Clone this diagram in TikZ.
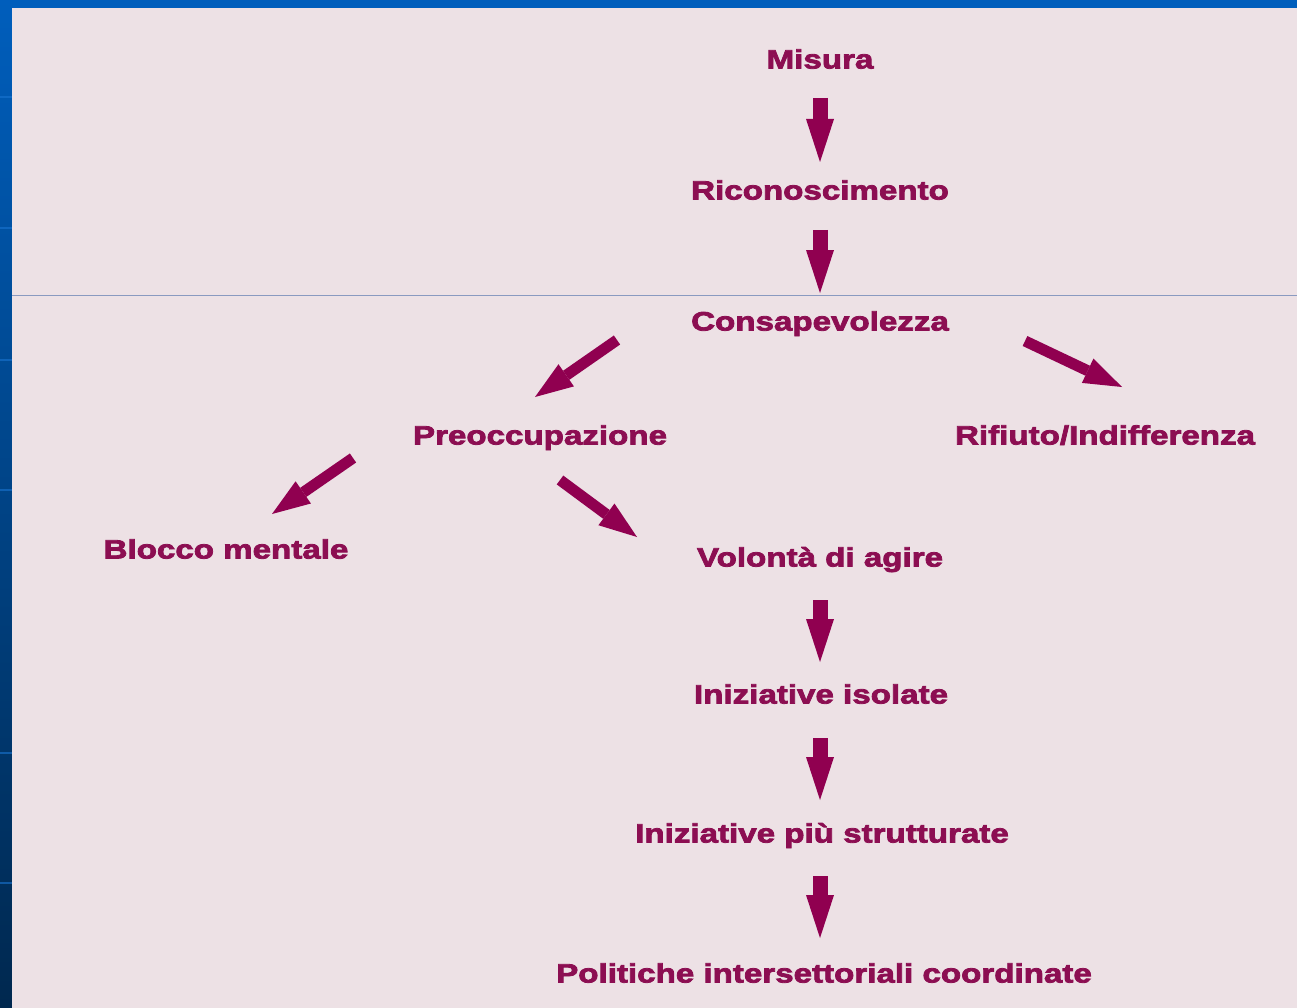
\documentclass[tikz,border=0pt]{standalone}
\usepackage{fontspec}
\setmainfont{Liberation Sans}
\newfontfamily\lblfont[FakeStretch=1.25,FakeBold=3]{Liberation Sans}
\usetikzlibrary{arrows.meta}
\definecolor{panel}{HTML}{EDE1E5}
\definecolor{txt}{HTML}{8C0E52}
\definecolor{arr}{HTML}{900050}
\definecolor{blueA}{HTML}{005EBC}
\definecolor{blueB}{HTML}{00284F}
\definecolor{bluel}{HTML}{1A74D0}
\definecolor{sep}{HTML}{8A9AC0}
\begin{document}
\begin{tikzpicture}[x=1pt,y=-1pt,
  lbl/.style={font=\lblfont\bfseries\fontsize{26.5}{30}\selectfont, text=txt,
    inner sep=0pt, text height=19pt, text depth=0pt, anchor=center},
  varrow/.style={draw=arr, line width=15pt,
    -{Triangle[length=43pt,width=28pt,line width=0pt]},
    shorten <=39pt, shorten >=28pt},
  darrow/.style={draw=arr, line width=11pt,
    -{Triangle[length=38pt,width=27pt,line width=0pt]}}]
\useasboundingbox (0,0) rectangle (1297,1008);
% background
\fill[blueA] (0,0) rectangle (1297,8);
\shade[top color=blueA, bottom color=blueB] (0,0) rectangle (12,1008);
\foreach \yy in {97,228,360,490,753,883}
  \draw[bluel, line width=1.5pt, opacity=0.6] (0,\yy) -- (12,\yy);
\fill[panel] (12,8) rectangle (1297,1008);
\draw[sep, line width=1pt] (12,295) -- (1297,295);
% labels
\node[lbl] (misura) at (820,59) {Misura};
\node[lbl] (ricon) at (820,190) {Riconoscimento};
\node[lbl] (consap) at (820,321) {Consapevolezza};
\node[lbl] (preocc) at (540,435) {Preoccupazione};
\node[lbl] (rifiuto) at (1105,435) {Rifiuto/Indifferenza};
\node[lbl] (blocco) at (226,549) {Blocco mentale};
\node[lbl] (volonta) at (820,557) {Volontà di agire};
\node[lbl] (isolate) at (821,694) {Iniziative isolate};
\node[lbl] (strutt) at (822,833) {Iniziative più strutturate};
\node[lbl] (politiche) at (824,973) {Politiche intersettoriali coordinate};
% vertical arrows
\draw[varrow] (misura.center) -- (ricon.center);
\draw[varrow, shorten <=40pt] (ricon.center) -- (consap.center);
\draw[varrow, shorten <=43pt, shorten >=32pt] (volonta.center) -- (volonta.center |- isolate.center);
\draw[varrow, shorten <=44pt, shorten >=33pt] (volonta.center |- isolate.center) -- (volonta.center |- strutt.center);
\draw[varrow, shorten <=43pt, shorten >=35pt] (volonta.center |- strutt.center) -- (volonta.center |- politiche.center);
% diagonal arrows
\coordinate (d1s) at (617,340); \coordinate (d1e) at (535,397);
\coordinate (d2s) at (1025,341); \coordinate (d2e) at (1122,387);
\coordinate (d3s) at (353,458); \coordinate (d3e) at (272,514);
\coordinate (d4s) at (560,480); \coordinate (d4e) at (637,537);
\draw[darrow] (d1s) -- (d1e);
\draw[darrow] (d2s) -- (d2e);
\draw[darrow] (d3s) -- (d3e);
\draw[darrow] (d4s) -- (d4e);
\end{tikzpicture}
\end{document}
